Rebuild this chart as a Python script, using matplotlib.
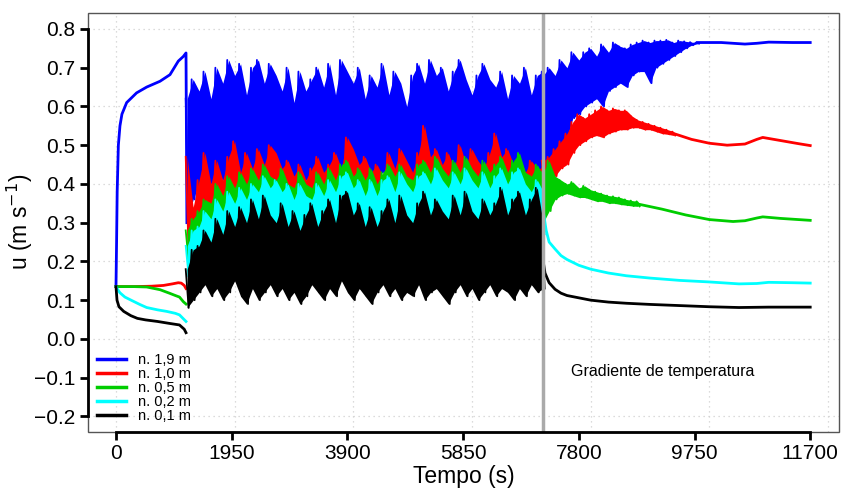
import numpy as np
import matplotlib.pyplot as plt
from matplotlib.patches import Rectangle

plt.rcParams['font.family'] = ['Liberation Sans', 'DejaVu Sans']

# ---- data ----
labels = ["n. 1,9 m", "n. 1,0 m", "n. 0,5 m", "n. 0,2 m", "n. 0,1 m"]
colors = ["#0000ff", "#ff0000", "#00cd00", "#00ffff", "#000000"]
t_switch = 7200

# start-up phase (smooth)
blue_t1 = [0, 10, 20, 40, 67, 100, 180, 347, 517, 742, 910, 1050, 1135, 1180, 1195]
blue_u1 = [0.135, 0.25, 0.38, 0.50, 0.55, 0.58, 0.61, 0.635, 0.65, 0.665, 0.682, 0.717, 0.729, 0.738, 0.30]
red_t1 = [0, 300, 600, 800, 950, 1050, 1100, 1150, 1180]
red_u1 = [0.135, 0.135, 0.136, 0.138, 0.142, 0.145, 0.144, 0.138, 0.13]
green_t1 = [0, 300, 517, 742, 900, 1000, 1070, 1135, 1180]
green_u1 = [0.135, 0.135, 0.134, 0.127, 0.118, 0.112, 0.108, 0.096, 0.09]
cyan_t1 = [0, 30, 67, 150, 254, 400, 517, 700, 854, 1000, 1070, 1135, 1180]
cyan_u1 = [0.135, 0.127, 0.119, 0.108, 0.10, 0.089, 0.081, 0.075, 0.071, 0.066, 0.062, 0.052, 0.045]
black_t1 = [0, 17, 50, 130, 250, 360, 500, 700, 900, 1070, 1150, 1180]
black_u1 = [0.135, 0.10, 0.083, 0.071, 0.06, 0.053, 0.049, 0.045, 0.04, 0.036, 0.025, 0.016]

# oscillating phase, 1200..7200 s every 100 s: upper / lower spikes
t_noise = np.arange(1200, 7201, 100)
blue_hi = [0.62, 0.67, 0.64, 0.69, 0.62, 0.70, 0.66, 0.72, 0.68, 0.71, 0.63, 0.70, 0.72, 0.66, 0.71, 0.68,
           0.64, 0.70, 0.61, 0.69, 0.64, 0.67, 0.70, 0.65, 0.71, 0.63, 0.72, 0.69, 0.66, 0.70, 0.62, 0.68,
           0.65, 0.71, 0.63, 0.69, 0.66, 0.60, 0.68, 0.71, 0.66, 0.72, 0.68, 0.70, 0.64, 0.69, 0.72, 0.67,
           0.63, 0.68, 0.71, 0.67, 0.65, 0.69, 0.62, 0.68, 0.66, 0.70, 0.63, 0.68, 0.69]
blue_lo = [0.30, 0.36, 0.40, 0.42, 0.40, 0.43, 0.41, 0.44, 0.42, 0.43, 0.41, 0.44, 0.42, 0.43, 0.44, 0.42,
           0.43, 0.41, 0.42, 0.40, 0.41, 0.42, 0.43, 0.41, 0.42, 0.44, 0.43, 0.45, 0.44, 0.42, 0.43, 0.41,
           0.42, 0.43, 0.44, 0.42, 0.43, 0.44, 0.42, 0.43, 0.45, 0.44, 0.43, 0.44, 0.42, 0.43, 0.44, 0.43,
           0.44, 0.42, 0.43, 0.44, 0.45, 0.43, 0.42, 0.43, 0.44, 0.43, 0.42, 0.43, 0.42]
red_hi = [0.47, 0.34, 0.41, 0.48, 0.40, 0.46, 0.41, 0.47, 0.51, 0.43, 0.48, 0.44, 0.49, 0.45, 0.50, 0.48,
          0.44, 0.46, 0.42, 0.45, 0.41, 0.44, 0.47, 0.43, 0.45, 0.48, 0.44, 0.52, 0.49, 0.45, 0.47, 0.43,
          0.45, 0.42, 0.48, 0.44, 0.49, 0.46, 0.43, 0.48, 0.55, 0.47, 0.49, 0.45, 0.48, 0.44, 0.50, 0.45,
          0.49, 0.46, 0.44, 0.48, 0.53, 0.47, 0.49, 0.45, 0.47, 0.43, 0.46, 0.44, 0.44]
red_lo = [0.22, 0.26, 0.28, 0.30, 0.31, 0.33, 0.32, 0.34, 0.35, 0.34, 0.36, 0.35, 0.37, 0.36, 0.37, 0.36,
          0.35, 0.36, 0.34, 0.35, 0.34, 0.35, 0.36, 0.35, 0.36, 0.37, 0.36, 0.38, 0.37, 0.36, 0.35, 0.36,
          0.35, 0.36, 0.37, 0.36, 0.37, 0.36, 0.35, 0.37, 0.38, 0.37, 0.36, 0.37, 0.36, 0.37, 0.38, 0.36,
          0.37, 0.36, 0.37, 0.38, 0.37, 0.36, 0.37, 0.36, 0.35, 0.36, 0.35, 0.36, 0.35]
green_hi = [0.28, 0.31, 0.33, 0.36, 0.35, 0.40, 0.37, 0.42, 0.39, 0.43, 0.40, 0.44, 0.41, 0.45, 0.42, 0.41,
            0.44, 0.40, 0.39, 0.43, 0.40, 0.39, 0.43, 0.40, 0.44, 0.41, 0.45, 0.46, 0.42, 0.44, 0.41, 0.44,
            0.40, 0.43, 0.45, 0.42, 0.45, 0.42, 0.41, 0.45, 0.46, 0.43, 0.47, 0.44, 0.42, 0.46, 0.43, 0.47,
            0.44, 0.42, 0.46, 0.43, 0.45, 0.47, 0.43, 0.46, 0.48, 0.43, 0.42, 0.45, 0.42]
green_lo = [0.20, 0.24, 0.26, 0.27, 0.28, 0.30, 0.29, 0.31, 0.30, 0.32, 0.31, 0.33, 0.32, 0.33, 0.32, 0.31,
            0.32, 0.31, 0.30, 0.31, 0.30, 0.31, 0.32, 0.31, 0.32, 0.31, 0.33, 0.34, 0.33, 0.32, 0.31, 0.32,
            0.31, 0.32, 0.33, 0.32, 0.33, 0.32, 0.31, 0.33, 0.34, 0.33, 0.34, 0.33, 0.32, 0.33, 0.32, 0.34,
            0.33, 0.32, 0.33, 0.32, 0.33, 0.34, 0.32, 0.33, 0.34, 0.32, 0.31, 0.32, 0.31]
cyan_hi = [0.24, 0.28, 0.29, 0.33, 0.31, 0.36, 0.33, 0.38, 0.35, 0.39, 0.36, 0.40, 0.38, 0.42, 0.39, 0.41,
           0.38, 0.40, 0.36, 0.40, 0.37, 0.36, 0.40, 0.37, 0.41, 0.38, 0.42, 0.43, 0.39, 0.41, 0.37, 0.41,
           0.37, 0.41, 0.42, 0.38, 0.43, 0.40, 0.38, 0.42, 0.43, 0.40, 0.44, 0.41, 0.39, 0.43, 0.40, 0.44,
           0.41, 0.39, 0.43, 0.39, 0.42, 0.44, 0.40, 0.43, 0.44, 0.40, 0.38, 0.41, 0.38]
cyan_lo = [0.16, 0.19, 0.21, 0.23, 0.24, 0.26, 0.25, 0.27, 0.26, 0.28, 0.27, 0.29, 0.28, 0.30, 0.29, 0.28,
           0.29, 0.27, 0.26, 0.28, 0.27, 0.26, 0.28, 0.27, 0.29, 0.28, 0.29, 0.30, 0.29, 0.28, 0.27, 0.29,
           0.28, 0.29, 0.30, 0.28, 0.29, 0.30, 0.28, 0.29, 0.30, 0.29, 0.31, 0.30, 0.28, 0.29, 0.30, 0.31,
           0.29, 0.28, 0.30, 0.29, 0.30, 0.31, 0.29, 0.30, 0.31, 0.29, 0.28, 0.29, 0.27]
black_hi = [0.18, 0.23, 0.24, 0.28, 0.25, 0.31, 0.27, 0.33, 0.29, 0.34, 0.30, 0.36, 0.31, 0.37, 0.32, 0.30,
            0.35, 0.29, 0.33, 0.28, 0.32, 0.35, 0.29, 0.33, 0.36, 0.30, 0.37, 0.38, 0.32, 0.35, 0.29, 0.34,
            0.29, 0.33, 0.36, 0.30, 0.37, 0.32, 0.30, 0.35, 0.38, 0.32, 0.36, 0.33, 0.31, 0.37, 0.32, 0.38,
            0.33, 0.31, 0.36, 0.32, 0.35, 0.39, 0.32, 0.36, 0.38, 0.32, 0.36, 0.39, 0.30]
black_lo = [0.08, 0.10, 0.12, 0.14, 0.11, 0.13, 0.10, 0.12, 0.15, 0.11, 0.09, 0.13, 0.10, 0.12, 0.14, 0.11,
            0.13, 0.10, 0.12, 0.09, 0.11, 0.14, 0.12, 0.10, 0.13, 0.11, 0.15, 0.12, 0.10, 0.13, 0.11, 0.09,
            0.12, 0.14, 0.11, 0.13, 0.10, 0.12, 0.11, 0.14, 0.10, 0.12, 0.13, 0.11, 0.09, 0.12, 0.14, 0.11,
            0.13, 0.10, 0.12, 0.14, 0.11, 0.13, 0.12, 0.10, 0.13, 0.11, 0.14, 0.12, 0.13]

# after the temperature gradient is switched on: bands for blue/red/green
blue_t2 = np.arange(7200, 9801, 100)
blue_hi2 = [0.68, 0.70, 0.68, 0.72, 0.70, 0.74, 0.72, 0.74, 0.75, 0.73, 0.76, 0.74, 0.765, 0.755,
            0.75, 0.76, 0.765, 0.77, 0.765, 0.77, 0.77, 0.772, 0.765, 0.77, 0.768, 0.766, 0.765]
blue_lo2 = [0.42, 0.44, 0.47, 0.50, 0.52, 0.57, 0.58, 0.60, 0.61, 0.62, 0.60, 0.64, 0.65, 0.66,
            0.65, 0.68, 0.69, 0.69, 0.66, 0.70, 0.71, 0.72, 0.73, 0.74, 0.75, 0.758, 0.762]
blue_t3 = [9800, 10200, 10600, 10800, 11000, 11400, 11700]
blue_u3 = [0.765, 0.765, 0.761, 0.763, 0.766, 0.765, 0.765]

red_t2 = np.arange(7200, 9401, 100)
red_hi2 = [0.46, 0.47, 0.49, 0.51, 0.53, 0.56, 0.58, 0.57, 0.58, 0.59, 0.60, 0.59, 0.595, 0.59,
           0.59, 0.575, 0.565, 0.56, 0.555, 0.55, 0.545, 0.54, 0.535]
red_lo2 = [0.39, 0.40, 0.42, 0.44, 0.45, 0.48, 0.50, 0.51, 0.52, 0.525, 0.52, 0.53, 0.535, 0.54,
           0.54, 0.545, 0.545, 0.54, 0.54, 0.535, 0.53, 0.528, 0.525]
red_t3 = [9400, 9700, 10000, 10300, 10600, 10800, 10900, 11200, 11500, 11700]
red_u3 = [0.53, 0.515, 0.505, 0.50, 0.503, 0.515, 0.52, 0.512, 0.504, 0.499]

green_t2 = np.arange(7200, 8801, 100)
green_hi2 = [0.43, 0.46, 0.42, 0.41, 0.40, 0.405, 0.39, 0.395, 0.385, 0.38, 0.375, 0.37, 0.368,
             0.365, 0.36, 0.357, 0.355]
green_lo2 = [0.30, 0.33, 0.36, 0.37, 0.375, 0.37, 0.365, 0.365, 0.36, 0.355, 0.355, 0.35, 0.35,
             0.347, 0.345, 0.343, 0.342]
green_t3 = [8800, 9200, 9600, 10000, 10400, 10600, 10800, 10900, 11200, 11700]
green_u3 = [0.348, 0.335, 0.32, 0.308, 0.303, 0.305, 0.312, 0.315, 0.311, 0.306]

cyan_t3 = [7200, 7250, 7300, 7400, 7500, 7600, 7800, 8000, 8300, 8600, 9000, 9500, 10000, 10500,
           10800, 11000, 11400, 11700]
cyan_u3 = [0.33, 0.28, 0.25, 0.232, 0.215, 0.205, 0.19, 0.18, 0.17, 0.163, 0.157, 0.151, 0.147,
           0.142, 0.143, 0.146, 0.145, 0.144]
black_t3 = [7200, 7230, 7300, 7400, 7500, 7600, 7800, 8000, 8300, 8600, 9000, 9500, 10000, 10500,
            11000, 11700]
black_u3 = [0.20, 0.17, 0.145, 0.128, 0.118, 0.112, 0.106, 0.100, 0.095, 0.092, 0.089, 0.086,
            0.083, 0.081, 0.082, 0.082]

x_ticks = [0, 1950, 3900, 5850, 7800, 9750, 11700]
y_ticks = [-0.2, -0.1, 0.0, 0.1, 0.2, 0.3, 0.4, 0.5, 0.6, 0.7, 0.8]
x_grid = [0, 2000, 4000, 6000, 8000, 10000, 12000]
y_grid = [-0.2, 0.0, 0.2, 0.4, 0.6, 0.8]

fig = plt.figure(figsize=(8.46, 4.88), dpi=100)
ax = fig.add_axes([0.104, 0.115, 0.888, 0.859])
ax.set_xlim(-472, 12189)
ax.set_ylim(-0.240, 0.842)

for g in x_grid:
    ax.axvline(g, color="#d0d0d0", lw=0.9, ls=(0, (1, 3)), zorder=0)
for g in y_grid:
    ax.axhline(g, color="#d0d0d0", lw=0.9, ls=(0, (1, 3)), zorder=0)


def band(t, hi, lo, color, z):
    t = np.asarray(t, dtype=float)
    ax.fill_between(t, lo, hi, color=color, lw=0, zorder=z)
    tz = np.column_stack([t - 25, t + 25]).ravel()
    uz = np.column_stack([hi, lo]).ravel()
    ax.plot(tz, uz, color=color, lw=1.3, zorder=z)


series = [
    (blue_t1, blue_u1, blue_hi, blue_lo),
    (red_t1, red_u1, red_hi, red_lo),
    (green_t1, green_u1, green_hi, green_lo),
    (cyan_t1, cyan_u1, cyan_hi, cyan_lo),
    (black_t1, black_u1, black_hi, black_lo),
]
tails = [
    (blue_t2, blue_hi2, blue_lo2, blue_t3, blue_u3),
    (red_t2, red_hi2, red_lo2, red_t3, red_u3),
    (green_t2, green_hi2, green_lo2, green_t3, green_u3),
    (None, None, None, cyan_t3, cyan_u3),
    (None, None, None, black_t3, black_u3),
]

for i, ((t1, u1, hi, lo), (t2, hi2, lo2, t3, u3)) in enumerate(zip(series, tails)):
    c = colors[i]
    z = 2 + i
    ax.plot(t1, u1, color=c, lw=2, zorder=z, label=labels[i])
    band(t_noise, hi, lo, c, z)
    if t2 is not None:
        band(t2, hi2, lo2, c, z)
    ax.plot(t3, u3, color=c, lw=2, zorder=z)

ax.axvline(t_switch, color="#aaaaaa", lw=2.5, zorder=8)
ax.text(9220, -0.085, "Gradiente de temperatura", fontsize=11.5, ha="center", va="center")

# axes in the R base-graphics style
for s in ax.spines.values():
    s.set_visible(False)
ax.add_patch(Rectangle((0, 0), 1, 1, transform=ax.transAxes, fill=False,
                       edgecolor="#555555", lw=1, zorder=10, clip_on=False))
ax.spines["left"].set_visible(True)
ax.spines["bottom"].set_visible(True)
ax.spines["left"].set_bounds(y_ticks[0], y_ticks[-1])
ax.spines["bottom"].set_bounds(x_ticks[0], x_ticks[-1])
for s in ("left", "bottom"):
    ax.spines[s].set_linewidth(2)
    ax.spines[s].set_zorder(11)

ax.set_xticks(x_ticks)
ax.set_xticklabels([str(v) for v in x_ticks])
ax.set_yticks(y_ticks)
ax.set_yticklabels([f"{v:.1f}".replace("-", "\u2212") for v in y_ticks])
ax.tick_params(direction="out", length=6, width=2, labelsize=15, pad=3)

ax.set_xlabel("Tempo (s)", fontsize=16.5, labelpad=1)
ax.set_ylabel("u (m s$^{-1}$)", fontsize=16.5, labelpad=-1)

leg = ax.legend(loc="lower left", bbox_to_anchor=(0.0, 0.0), frameon=False, fontsize=10.5,
                handlelength=2.0, handletextpad=0.8, labelspacing=0.0, borderaxespad=0.2)
for h in leg.get_lines():
    h.set_linewidth(2.5)

fig.savefig("out.png", dpi=100)
